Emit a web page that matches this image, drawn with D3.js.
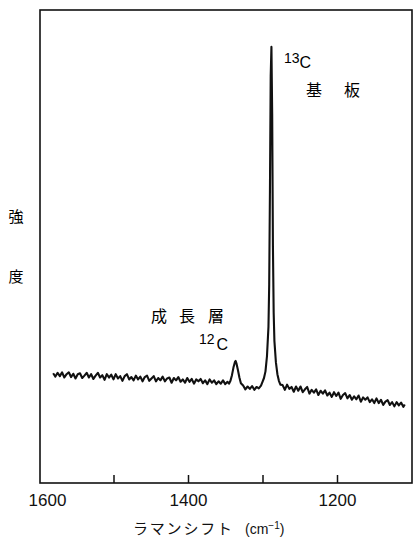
<!DOCTYPE html>
<html>
<head>
<meta charset="utf-8">
<script src="https://cdn.jsdelivr.net/npm/d3@7"></script>
<style>
  html, body { margin: 0; padding: 0; background: #fff; }
  svg { display: block; }
  .cjk { font-family: "Noto Sans CJK JP", "Noto Sans", sans-serif; }
  .num { font-family: "Liberation Sans", Arial, sans-serif; }
</style>
</head>
<body>
<div id="chart"></div>
<script>
// raman shift (cm-1) and intensity (a.u.)
const ramanShift = [
  1581, 1578, 1575, 1572, 1569, 1566, 1563, 1560, 1557, 1554, 1551, 1548, 1545, 1542, 1539, 1536,
  1533, 1530, 1527, 1524, 1521, 1518, 1515, 1512, 1509, 1506, 1503, 1500, 1497, 1494, 1491, 1488,
  1485, 1482, 1479, 1476, 1473, 1470, 1467, 1464, 1461, 1458, 1455, 1452, 1449, 1446, 1443, 1440,
  1437, 1434, 1431, 1428, 1425, 1422, 1419, 1416, 1413, 1410, 1407, 1404, 1401, 1398, 1395, 1392,
  1389, 1386, 1383, 1380, 1377, 1374, 1371, 1368, 1365, 1362, 1359, 1356, 1353, 1350, 1347,
  1345, 1343, 1341, 1339, 1337, 1336, 1335, 1333, 1331, 1329,
  1326, 1323, 1320, 1317, 1314, 1311, 1308, 1305, 1302,
  1300, 1298, 1296, 1294, 1292, 1291, 1290, 1289, 1288, 1287, 1286, 1285, 1284, 1282, 1280, 1278, 1276,
  1273, 1270, 1267, 1264, 1261, 1258, 1255, 1252, 1249, 1246, 1243, 1240, 1237, 1234, 1231, 1228,
  1225, 1222, 1219, 1216, 1213, 1210, 1207, 1204, 1201, 1198, 1195, 1192, 1189, 1186, 1183, 1180,
  1177, 1174, 1171, 1168, 1165, 1162, 1159, 1156, 1153, 1150, 1147, 1144, 1141, 1138, 1135, 1132,
  1129, 1126, 1123, 1120, 1117, 1114, 1111, 1109
];
const intensity = [
  23.2, 22.5, 23.3, 22.6, 23.4, 22.3, 23.0, 23.4, 22.4, 23.1, 22.1, 23.0, 23.2, 22.2, 22.7, 23.3,
  22.3, 23.0, 22.0, 22.7, 23.3, 22.3, 22.8, 21.8, 23.0, 22.3, 22.9, 21.9, 23.0, 22.1, 22.6, 21.6,
  22.6, 23.0, 21.9, 22.4, 21.7, 22.7, 21.9, 22.5, 21.5, 22.4, 22.7, 21.6, 22.1, 22.6, 21.5, 22.2,
  21.7, 22.5, 21.5, 22.1, 22.3, 21.2, 22.2, 21.7, 22.4, 21.4, 21.9, 21.2, 22.2, 21.4, 22.0, 21.0,
  21.9, 21.5, 22.0, 21.1, 21.7, 20.9, 21.9, 21.2, 21.7, 20.9, 21.5, 21.0, 21.7, 20.9, 21.4,
  21.0, 21.6, 22.8, 24.4, 25.6, 25.8, 25.3, 23.9, 22.3, 21.1,
  20.6, 19.8, 20.4, 19.9, 20.5, 19.7, 20.3, 20.0, 20.6,
  21.4, 22.2, 23.6, 26.8, 33.0, 42.0, 62.0, 86.0, 92.2, 78.0, 50.0, 36.0, 30.0, 25.5, 23.0, 21.6, 20.8,
  20.7, 19.7, 20.8, 19.9, 20.3, 19.3, 20.4, 19.5, 20.4, 19.2, 19.8, 20.3, 18.9, 19.7, 19.1, 19.8,
  18.6, 19.5, 18.9, 19.6, 18.5, 19.1, 18.2, 19.2, 18.4, 19.1, 17.8, 18.6, 19.0, 17.9, 18.6, 17.6,
  18.3, 17.7, 18.5, 17.2, 18.1, 17.6, 18.1, 17.1, 17.7, 16.9, 17.9, 16.9, 17.6, 16.5, 17.2, 17.5,
  16.5, 17.1, 16.2, 17.1, 16.4, 17.0, 16.1, 16.6
];
const tickValues = [1600, 1500, 1400, 1300, 1200];
const labelledTicks = [1600, 1400, 1200];

const width = 414, height = 537;
const frame = { left: 40, right: 412, top: 10, bottom: 483 };

const svg = d3.select('#chart').append('svg')
  .attr('width', width)
  .attr('height', height);

const x = d3.scaleLinear().domain([1600, 1100]).range([39, 411.5]);
const y = d3.scaleLinear().domain([0, 100]).range([frame.bottom, frame.top]);

// frame
svg.append('rect')
  .attr('x', frame.left)
  .attr('y', frame.top)
  .attr('width', frame.right - frame.left)
  .attr('height', frame.bottom - frame.top)
  .attr('fill', 'none')
  .attr('stroke', '#111')
  .attr('stroke-width', 1.6);

// bottom axis, ticks pointing in
const xAxis = svg.append('g')
  .attr('class', 'axis axis-x num')
  .attr('transform', `translate(0, ${frame.bottom})`)
  .call(d3.axisBottom(x)
    .tickValues(tickValues)
    .tickSizeInner(-8)
    .tickSizeOuter(0)
    .tickFormat(d => labelledTicks.includes(d) ? d : ''));

xAxis.select('.domain').remove();
xAxis.selectAll('.tick line')
  .attr('stroke', '#111')
  .attr('stroke-width', 1.5)
  .filter(d => d === 1600).remove();
xAxis.selectAll('.tick text')
  .attr('y', 23)
  .attr('dy', 0)
  .attr('dx', d => d === 1600 ? 8 : 0)
  .attr('fill', '#111')
  .style('font-size', '17px')
  .style('font-family', '"Liberation Sans", Arial, sans-serif');

// spectrum
const pts = ramanShift.map((w, i) => [w, intensity[i]]);
const line = d3.line()
  .x(d => x(d[0]))
  .y(d => y(d[1]));

svg.append('path')
  .datum(pts)
  .attr('d', line)
  .attr('fill', 'none')
  .attr('stroke', '#111')
  .attr('stroke-width', 2.1)
  .attr('stroke-linejoin', 'round');

// axis titles
const xTitle = svg.append('text')
  .attr('x', 133)
  .attr('y', 534)
  .attr('fill', '#111');
xTitle.append('tspan')
  .attr('class', 'cjk')
  .style('font-size', '15px')
  .style('letter-spacing', '1.8px')
  .text('ラマンシフト');
xTitle.append('tspan')
  .attr('class', 'num')
  .attr('x', 245)
  .style('font-size', '14px')
  .text('(cm');
xTitle.append('tspan')
  .attr('class', 'num')
  .attr('dy', -5)
  .style('font-size', '10px')
  .text('−1');
xTitle.append('tspan')
  .attr('class', 'num')
  .attr('dy', 5)
  .style('font-size', '14px')
  .text(')');

svg.append('text').attr('class', 'cjk')
  .attr('x', 16).attr('y', 222)
  .attr('text-anchor', 'middle')
  .style('font-size', '15px')
  .text('強');
svg.append('text').attr('class', 'cjk')
  .attr('x', 16).attr('y', 282)
  .attr('text-anchor', 'middle')
  .style('font-size', '15px')
  .text('度');

// peak annotations
const lab13 = svg.append('text').attr('class', 'num').attr('x', 284).attr('y', 63);
lab13.append('tspan').style('font-size', '14px').text('13');
lab13.append('tspan').attr('dy', 5).style('font-size', '16px').text('C');

const sub = svg.append('text').attr('class', 'cjk').attr('y', 96).style('font-size', '16px');
sub.append('tspan').attr('x', 306).text('基');
sub.append('tspan').attr('x', 344).text('板');

const grow = svg.append('text').attr('class', 'cjk').attr('y', 322).style('font-size', '16px');
grow.append('tspan').attr('x', 151).text('成');
grow.append('tspan').attr('x', 179).text('長');
grow.append('tspan').attr('x', 208).text('層');

const lab12 = svg.append('text').attr('class', 'num').attr('x', 199).attr('y', 344);
lab12.append('tspan').style('font-size', '14px').text('12');
lab12.append('tspan').attr('dx', 2).attr('dy', 6).style('font-size', '16px').text('C');
</script>
</body>
</html>
